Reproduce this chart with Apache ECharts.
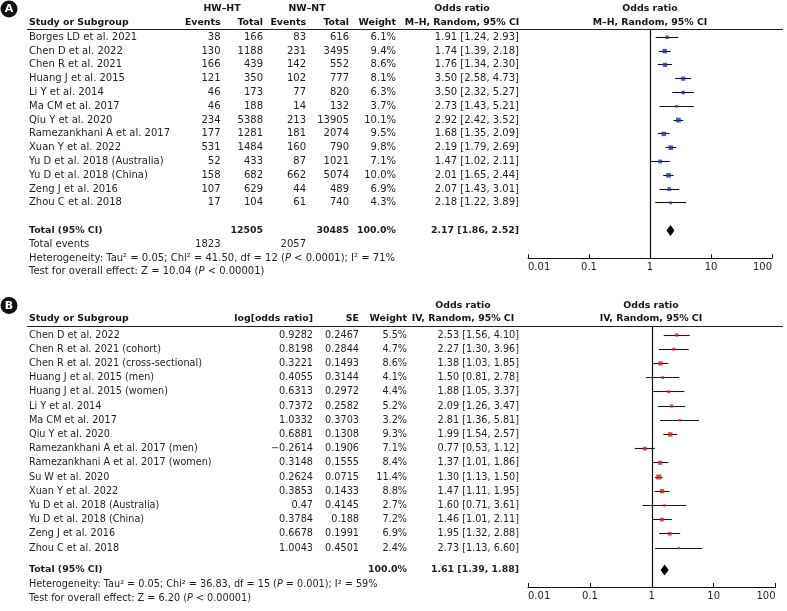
<!DOCTYPE html>
<html><head><meta charset="utf-8">
<script src="https://cdn.jsdelivr.net/npm/echarts@6/dist/echarts.min.js"></script>
<style>html,body{margin:0;padding:0;background:#fff}#c{width:787px;height:611px}</style>
</head><body><div id="c"></div>
<script>
// ---------- Panel A data ----------
const studiesA = ['Borges LD et al. 2021','Chen D et al. 2022','Chen R et al. 2021','Huang J et al. 2015','Li Y et al. 2014','Ma CM et al. 2017','Qiu Y et al. 2020','Ramezankhani A et al. 2017','Xuan Y et al. 2022','Yu D et al. 2018 (Australia)','Yu D et al. 2018 (China)','Zeng J et al. 2016','Zhou C et al. 2018'];
const eventsHW = [38,130,166,121,46,46,234,177,531,52,158,107,17];
const totalHW  = [166,1188,439,350,173,188,5388,1281,1484,433,682,629,104];
const eventsNW = [83,231,142,102,77,14,213,181,160,87,662,44,61];
const totalNW  = [616,3495,552,777,820,132,13905,2074,790,1021,5074,489,740];
const weightA  = [6.1,9.4,8.6,8.1,6.3,3.7,10.1,9.5,9.8,7.1,10.0,6.9,4.3];
const orA   = [1.91,1.74,1.76,3.50,3.50,2.73,2.92,1.68,2.19,1.47,2.01,2.07,2.18];
const lowA  = [1.24,1.39,1.34,2.58,2.32,1.43,2.42,1.35,1.79,1.02,1.65,1.43,1.22];
const highA = [2.93,2.18,2.30,4.73,5.27,5.21,3.52,2.09,2.69,2.11,2.44,3.01,3.89];
const pooledA = [2.17,1.86,2.52];
const sumTotalsA = [12505,30485];
const totalEventsA = [1823,2057];
const hetA  = 'Heterogeneity: Tau² = 0.05; Chi² = 41.50, df = 12 ({p|P} < 0.0001); I² = 71%';
const testA = 'Test for overall effect: Z = 10.04 ({p|P} < 0.00001)';

// ---------- Panel B data ----------
const studiesB = ['Chen D et al. 2022','Chen R et al. 2021 (cohort)','Chen R et al. 2021 (cross-sectional)','Huang J et al. 2015 (men)','Huang J et al. 2015 (women)','Li Y et al. 2014','Ma CM et al. 2017','Qiu Y et al. 2020','Ramezankhani A et al. 2017 (men)','Ramezankhani A et al. 2017 (women)','Su W et al. 2020','Xuan Y et al. 2022','Yu D et al. 2018 (Australia)','Yu D et al. 2018 (China)','Zeng J et al. 2016','Zhou C et al. 2018'];
const logOR  = [0.9282,0.8198,0.3221,0.4055,0.6313,0.7372,1.0332,0.6881,-0.2614,0.3148,0.2624,0.3853,0.47,0.3784,0.6678,1.0043];
const seB    = [0.2467,0.2844,0.1493,0.3144,0.2972,0.2582,0.3703,0.1308,0.1906,0.1555,0.0715,0.1433,0.4145,0.188,0.1991,0.4501];
const weightB= [5.5,4.7,8.6,4.1,4.4,5.2,3.2,9.3,7.1,8.4,11.4,8.8,2.7,7.2,6.9,2.4];
const orB    = [2.53,2.27,1.38,1.50,1.88,2.09,2.81,1.99,0.77,1.37,1.30,1.47,1.60,1.46,1.95,2.73];
const lowB   = [1.56,1.30,1.03,0.81,1.05,1.26,1.36,1.54,0.53,1.01,1.13,1.11,0.71,1.01,1.32,1.13];
const highB  = [4.10,3.96,1.85,2.78,3.37,3.47,5.81,2.57,1.12,1.86,1.50,1.95,3.61,2.11,2.88,6.60];
const pooledB = [1.61,1.39,1.88];
const hetB  = 'Heterogeneity: Tau² = 0.05; Chi² = 36.83, df = 15 ({p|P} = 0.001); I² = 59%';
const testB = 'Test for overall effect: Z = 6.20 ({p|P} < 0.00001)';

const tickLabels = ['0.01','0.1','1','10','100'];

// ---------- styling ----------
const FONT = 'DejaVu Sans';
const INK = '#1e1e1e';
const BODY_A = 10, BODY_B = 9.7, BOLD = 9.4;

const fmtCI = (o,l,h) => `${o.toFixed(2)} [${l.toFixed(2)}, ${h.toFixed(2)}]`;
const fmtNum = v => String(v).replace('-', '\u2212');
const crisp = v => Math.round(v - 0.5) + 0.5;

const rowsA = studiesA.map((_, i) => i);
const rowsB = studiesB.map((_, i) => i);
const rowTotA = 14, rowEvA = 15, rowHetA = 16, rowTestA = 17;
const rowTotB = 16.55, rowHetB = 17.54, rowTestB = 18.52;

function cell(t, x, a, bold, size) { return {t: String(t), x, a: a || 'right', b: !!bold, s: size}; }

// table cells panel A
const cellsA = rowsA.map(i => [
  cell(studiesA[i], 29, 'left', false, BODY_A),
  cell(eventsHW[i], 220.5, 'right', false, BODY_A),
  cell(totalHW[i], 263, 'right', false, BODY_A),
  cell(eventsNW[i], 306, 'right', false, BODY_A),
  cell(totalNW[i], 349, 'right', false, BODY_A),
  cell(weightA[i].toFixed(1) + '%', 396, 'right', false, BODY_A),
  cell(fmtCI(orA[i], lowA[i], highA[i]), 519, 'right', false, BODY_A)
]);
const rowValsA = rowsA.slice();
rowValsA.push(rowTotA); cellsA.push([
  cell('Total (95% CI)', 29, 'left', true), cell(sumTotalsA[0], 263, 'right', true),
  cell(sumTotalsA[1], 349, 'right', true), cell('100.0%', 396, 'right', true),
  cell(fmtCI(pooledA[0], pooledA[1], pooledA[2]), 519, 'right', true)]);
rowValsA.push(rowEvA); cellsA.push([
  cell('Total events', 29, 'left', false, BODY_A), cell(totalEventsA[0], 220.5, 'right', false, BODY_A),
  cell(totalEventsA[1], 306, 'right', false, BODY_A)]);
rowValsA.push(rowHetA); cellsA.push([cell(hetA, 29, 'left', false, BODY_A)]);
rowValsA.push(rowTestA); cellsA.push([cell(testA, 29, 'left', false, BODY_A)]);

// table cells panel B
const cellsB = rowsB.map(i => [
  cell(studiesB[i], 29, 'left', false, BODY_B),
  cell(fmtNum(logOR[i]), 313, 'right', false, BODY_B),
  cell(fmtNum(seB[i]), 359, 'right', false, BODY_B),
  cell(weightB[i].toFixed(1) + '%', 407, 'right', false, BODY_B),
  cell(fmtCI(orB[i], lowB[i], highB[i]), 519, 'right', false, BODY_B)
]);
const rowValsB = rowsB.slice();
rowValsB.push(rowTotB); cellsB.push([
  cell('Total (95% CI)', 29, 'left', true), cell('100.0%', 407, 'right', true),
  cell(fmtCI(pooledB[0], pooledB[1], pooledB[2]), 519, 'right', true)]);
rowValsB.push(rowHetB); cellsB.push([cell(hetB, 29, 'left', false, BODY_B)]);
rowValsB.push(rowTestB); cellsB.push([cell(testB, 29, 'left', false, BODY_B)]);

function textSeries(gi, rowVals, cells) {
  return {
    type: 'custom', xAxisIndex: gi, yAxisIndex: gi, clip: false, silent: true, z: 5,
    data: rowVals.map(r => [1, r]),
    encode: {x: 0, y: 1},
    renderItem: (p, api) => {
      const y = api.coord([1, api.value(1)])[1];
      return {
        type: 'group',
        children: cells[p.dataIndex].map(c => {
          const size = c.b ? BOLD : c.s;
          return {
            type: 'text',
            style: {
              text: c.t, x: c.x, y: y, align: c.a, verticalAlign: 'middle',
              fill: INK, fontFamily: FONT, fontSize: size, fontWeight: c.b ? 'bold' : 'normal',
              rich: {p: {fontStyle: 'italic', fontFamily: FONT, fontSize: size, fill: INK}}
            }
          };
        })
      };
    }
  };
}

function ciSeries(gi, rows, low, high, color) {
  return {
    type: 'custom', xAxisIndex: gi, yAxisIndex: gi, clip: false, silent: true, z: 2,
    data: rows.map(i => [low[i], high[i], i]),
    encode: {x: [0, 1], y: 2},
    renderItem: (p, api) => {
      const a = api.coord([api.value(0), api.value(2)]);
      const b = api.coord([api.value(1), api.value(2)]);
      const y = crisp(a[1]);
      return {type: 'line', shape: {x1: a[0], y1: y, x2: b[0], y2: y},
              style: {stroke: color, lineWidth: 1.1}};
    }
  };
}

function squareSeries(gi, rows, or, weight, color) {
  return {
    type: 'scatter', xAxisIndex: gi, yAxisIndex: gi, symbol: 'rect', silent: true, z: 3,
    data: rows.map(i => [or[i], i, weight[i]]),
    symbolSize: d => 1.5 + 0.32 * d[2],
    itemStyle: {color: color},
    markLine: {
      silent: true, symbol: 'none', animation: false, label: {show: false},
      lineStyle: {color: '#111', width: 1.2, type: 'solid'},
      emphasis: {disabled: true},
      data: [{xAxis: 1}]
    }
  };
}

function diamondSeries(gi, pooled, row) {
  return {
    type: 'custom', xAxisIndex: gi, yAxisIndex: gi, clip: false, silent: true, z: 4,
    data: [[pooled[0], pooled[1], pooled[2], row]],
    encode: {x: [0, 1, 2], y: 3},
    renderItem: (p, api) => {
      const c = api.coord([api.value(0), api.value(3)]);
      const l = api.coord([api.value(1), api.value(3)]);
      const r = api.coord([api.value(2), api.value(3)]);
      return {type: 'polygon',
              shape: {points: [[l[0], c[1]], [c[0], c[1] - 5.5], [r[0], c[1]], [c[0], c[1] + 5.5]]},
              style: {fill: '#000'}};
    }
  };
}

function xAxis(gi) {
  return {
    type: 'log', logBase: 10, min: 0.01, max: 100, gridIndex: gi, position: 'bottom',
    axisLine: {show: true, onZero: false, lineStyle: {color: '#111', width: 1}},
    axisTick: {show: true, inside: true, length: 4, lineStyle: {color: '#111'}},
    splitLine: {show: false}, minorTick: {show: false},
    axisLabel: {
      color: INK, fontFamily: FONT, fontSize: 10, margin: 4,
      alignMinLabel: 'left', alignMaxLabel: 'right',
      formatter: v => tickLabels[Math.round(Math.log10(v)) + 2] || ''
    }
  };
}

// panel A rows: row0 at y=37.3, step 13.8 ; panel B rows: row0 at 335, step 14.2
const gridA = {left: 528, width: 244, top: 29.5, height: 228.8, outerBoundsMode: 'none', containLabel: false};
const gridB = {left: 528, width: 247.5, top: 326.5, height: 260.5, outerBoundsMode: 'none', containLabel: false};

function headText(text, x, y, align) {
  return {type: 'text', silent: true, style: {text, x, y, align: align || 'center', verticalAlign: 'middle',
    fill: '#151515', fontFamily: FONT, fontSize: BOLD, fontWeight: 'bold'}};
}
function badge(letter, cx, cy) {
  return [
    {type: 'circle', silent: true, shape: {cx, cy, r: 8.5}, style: {fill: '#111'}},
    {type: 'text', silent: true, style: {text: letter, x: cx, y: cy + 0.5, align: 'center', verticalAlign: 'middle',
      fill: '#fff', fontFamily: FONT, fontSize: 11, fontWeight: 'bold'}}
  ];
}
function hline(y) {
  return {type: 'line', silent: true, shape: {x1: 27, y1: y, x2: 783, y2: y}, style: {stroke: '#222', lineWidth: 1}};
}

const graphics = [].concat(
  badge('A', 9, 9),
  [
    headText('HW\u2013HT', 222, 9), headText('NW\u2013NT', 307, 9),
    headText('Odds ratio', 462, 9), headText('Odds ratio', 650, 9),
    headText('Study or Subgroup', 29, 22.5, 'left'),
    headText('Events', 220.5, 22.5, 'right'), headText('Total', 263, 22.5, 'right'),
    headText('Events', 306, 22.5, 'right'), headText('Total', 349, 22.5, 'right'),
    headText('Weight', 396, 22.5, 'right'),
    headText('M\u2013H, Random, 95% CI', 462, 22.5), headText('M\u2013H, Random, 95% CI', 650, 22.5),
    hline(29.5)
  ],
  badge('B', 9, 305.5),
  [
    headText('Odds ratio', 463, 305.5), headText('Odds ratio', 651, 305.5),
    headText('Study or Subgroup', 29, 319, 'left'),
    headText('log[odds ratio]', 313, 319, 'right'), headText('SE', 359, 319, 'right'),
    headText('Weight', 407, 319, 'right'),
    headText('IV, Random, 95% CI', 463, 319), headText('IV, Random, 95% CI', 651, 319),
    hline(326.5)
  ]
);

const chart = echarts.init(document.getElementById('c'), null, {renderer: 'canvas'});
chart.setOption({
  animation: false,
  backgroundColor: '#fff',
  grid: [gridA, gridB],
  xAxis: [xAxis(0), xAxis(1)],
  yAxis: [
    {type: 'value', gridIndex: 0, inverse: true, min: -(37.3 - 29.5) / 13.8, max: (258.3 - 37.3) / 13.8, show: false},
    {type: 'value', gridIndex: 1, inverse: true, min: -(335 - 326.5) / 14.2, max: (587 - 335) / 14.2, show: false}
  ],
  graphic: graphics,
  series: [
    ciSeries(0, rowsA, lowA, highA, '#111122'),
    squareSeries(0, rowsA, orA, weightA, '#1f3a9a'),
    diamondSeries(0, pooledA, rowTotA),
    textSeries(0, rowValsA, cellsA),
    ciSeries(1, rowsB, lowB, highB, '#1a1a1a'),
    squareSeries(1, rowsB, orB, weightB, '#d42222'),
    diamondSeries(1, pooledB, rowTotB),
    textSeries(1, rowValsB, cellsB)
  ]
});
</script>
</body></html>
